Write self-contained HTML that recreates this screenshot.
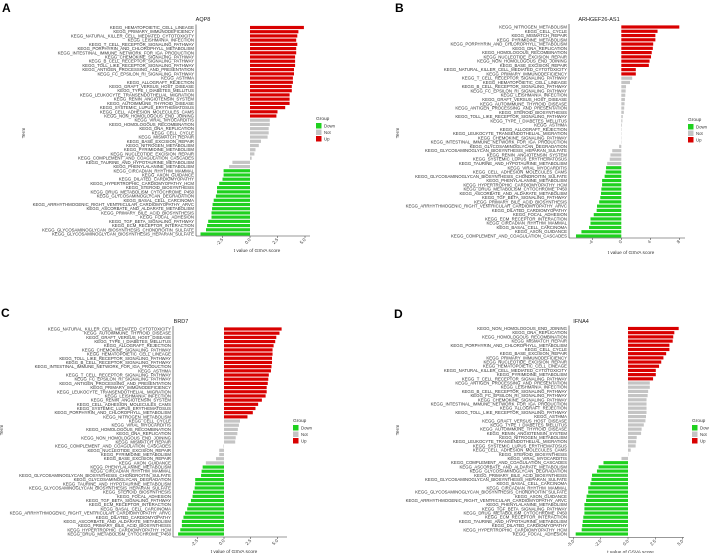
<!DOCTYPE html>
<html><head><meta charset="utf-8"><style>
html,body{margin:0;padding:0;background:#fff;}
svg{display:block;font-family:"Liberation Sans",sans-serif;}
</style></head><body>
<svg id="fig" width="709" height="553" viewBox="0 0 709 553"></svg>
<script>
// Panel A (gene title, terms, values, group counts [Up, Not, Down])
const titleA = "AQP8";
const termsA = ["HEMATOPOIETIC_CELL_LINEAGE","PRIMARY_IMMUNODEFICIENCY","NATURAL_KILLER_CELL_MEDIATED_CYTOTOXICITY","LEISHMANIA_INFECTION","T_CELL_RECEPTOR_SIGNALING_PATHWAY","PORPHYRIN_AND_CHLOROPHYLL_METABOLISM","INTESTINAL_IMMUNE_NETWORK_FOR_IGA_PRODUCTION","CHEMOKINE_SIGNALING_PATHWAY","B_CELL_RECEPTOR_SIGNALING_PATHWAY","TOLL_LIKE_RECEPTOR_SIGNALING_PATHWAY","ANTIGEN_PROCESSING_AND_PRESENTATION","FC_EPSILON_RI_SIGNALING_PATHWAY","ASTHMA","ALLOGRAFT_REJECTION","GRAFT_VERSUS_HOST_DISEASE","TYPE_I_DIABETES_MELLITUS","LEUKOCYTE_TRANSENDOTHELIAL_MIGRATION","RENIN_ANGIOTENSIN_SYSTEM","AUTOIMMUNE_THYROID_DISEASE","SYSTEMIC_LUPUS_ERYTHEMATOSUS","CELL_ADHESION_MOLECULES_CAMS","NON_HOMOLOGOUS_END_JOINING","VIRAL_MYOCARDITIS","HOMOLOGOUS_RECOMBINATION","DNA_REPLICATION","CELL_CYCLE","MISMATCH_REPAIR","BASE_EXCISION_REPAIR","NITROGEN_METABOLISM","PYRIMIDINE_METABOLISM","NUCLEOTIDE_EXCISION_REPAIR","COMPLEMENT_AND_COAGULATION_CASCADES","TAURINE_AND_HYPOTAURINE_METABOLISM","PHENYLALANINE_METABOLISM","CIRCADIAN_RHYTHM_MAMMAL","AXON_GUIDANCE","DILATED_CARDIOMYOPATHY","HYPERTROPHIC_CARDIOMYOPATHY_HCM","STEROID_BIOSYNTHESIS","DRUG_METABOLISM_CYTOCHROME_P450","GLYCOSAMINOGLYCAN_DEGRADATION","BASAL_CELL_CARCINOMA","ARRHYTHMOGENIC_RIGHT_VENTRICULAR_CARDIOMYOPATHY_ARVC","ASCORBATE_AND_ALDARATE_METABOLISM","PRIMARY_BILE_ACID_BIOSYNTHESIS","FOCAL_ADHESION","TGF_BETA_SIGNALING_PATHWAY","ECM_RECEPTOR_INTERACTION","GLYCOSAMINOGLYCAN_BIOSYNTHESIS_CHONDROITIN_SULFATE","GLYCOSAMINOGLYCAN_BIOSYNTHESIS_HEPARAN_SULFATE"];
const valuesA = [4.9,4.4,4.3,4.2,4.3,4.2,4.2,4.1,4.1,4.1,4.0,4.0,3.9,3.9,3.8,3.8,3.6,3.6,3.6,3.2,2.5,2.4,1.8,1.8,1.7,1.7,1.6,1.0,0.8,0.5,0.4,0.15,-1.6,-1.9,-2.4,-2.4,-2.5,-2.8,-3.0,-3.0,-3.1,-3.3,-3.4,-3.45,-3.5,-3.5,-3.8,-3.9,-4.0,-4.5];
const groupsA = [22,12,16];
const ticksA = [-2.5,0,2.5,5];

const titleB = "ARHGEF26-AS1";
const termsB = ["NITROGEN_METABOLISM","CELL_CYCLE","MISMATCH_REPAIR","PYRIMIDINE_METABOLISM","PORPHYRIN_AND_CHLOROPHYLL_METABOLISM","DNA_REPLICATION","HOMOLOGOUS_RECOMBINATION","NUCLEOTIDE_EXCISION_REPAIR","NON_HOMOLOGOUS_END_JOINING","BASE_EXCISION_REPAIR","NATURAL_KILLER_CELL_MEDIATED_CYTOTOXICITY","PRIMARY_IMMUNODEFICIENCY","T_CELL_RECEPTOR_SIGNALING_PATHWAY","HEMATOPOIETIC_CELL_LINEAGE","B_CELL_RECEPTOR_SIGNALING_PATHWAY","FC_EPSILON_RI_SIGNALING_PATHWAY","LEISHMANIA_INFECTION","GRAFT_VERSUS_HOST_DISEASE","AUTOIMMUNE_THYROID_DISEASE","ANTIGEN_PROCESSING_AND_PRESENTATION","STEROID_BIOSYNTHESIS","TOLL_LIKE_RECEPTOR_SIGNALING_PATHWAY","TYPE_I_DIABETES_MELLITUS","ASTHMA","ALLOGRAFT_REJECTION","LEUKOCYTE_TRANSENDOTHELIAL_MIGRATION","CHEMOKINE_SIGNALING_PATHWAY","INTESTINAL_IMMUNE_NETWORK_FOR_IGA_PRODUCTION","GLYCOSAMINOGLYCAN_DEGRADATION","GLYCOSAMINOGLYCAN_BIOSYNTHESIS_HEPARAN_SULFATE","RENIN_ANGIOTENSIN_SYSTEM","SYSTEMIC_LUPUS_ERYTHEMATOSUS","TAURINE_AND_HYPOTAURINE_METABOLISM","VIRAL_MYOCARDITIS","CELL_ADHESION_MOLECULES_CAMS","GLYCOSAMINOGLYCAN_BIOSYNTHESIS_CHONDROITIN_SULFATE","PHENYLALANINE_METABOLISM","HYPERTROPHIC_CARDIOMYOPATHY_HCM","DRUG_METABOLISM_CYTOCHROME_P450","ASCORBATE_AND_ALDARATE_METABOLISM","TGF_BETA_SIGNALING_PATHWAY","PRIMARY_BILE_ACID_BIOSYNTHESIS","ARRHYTHMOGENIC_RIGHT_VENTRICULAR_CARDIOMYOPATHY_ARVC","DILATED_CARDIOMYOPATHY","FOCAL_ADHESION","ECM_RECEPTOR_INTERACTION","CIRCADIAN_RHYTHM_MAMMAL","BASAL_CELL_CARCINOMA","AXON_GUIDANCE","COMPLEMENT_AND_COAGULATION_CASCADES"];
const valuesB = [8.0,5.0,4.7,4.7,4.4,4.35,4.2,4.1,3.9,3.8,2.0,2.0,1.5,1.2,0.65,0.6,0.55,0.5,0.45,0.4,0.35,0.2,0.15,0.1,0.05,0.03,0.02,0.01,-0.3,-1.25,-1.5,-1.6,-1.95,-2.1,-2.15,-2.3,-2.65,-2.65,-2.75,-2.8,-2.9,-3.05,-3.35,-3.4,-3.8,-4.25,-4.25,-4.45,-5.5,-6.25];
const groupsB = [12,21,17];
const ticksB = [-4,0,4,8];

const titleC = "BRD7";
const termsC = ["NATURAL_KILLER_CELL_MEDIATED_CYTOTOXICITY","AUTOIMMUNE_THYROID_DISEASE","GRAFT_VERSUS_HOST_DISEASE","TYPE_I_DIABETES_MELLITUS","ALLOGRAFT_REJECTION","CHEMOKINE_SIGNALING_PATHWAY","HEMATOPOIETIC_CELL_LINEAGE","TOLL_LIKE_RECEPTOR_SIGNALING_PATHWAY","B_CELL_RECEPTOR_SIGNALING_PATHWAY","INTESTINAL_IMMUNE_NETWORK_FOR_IGA_PRODUCTION","ASTHMA","T_CELL_RECEPTOR_SIGNALING_PATHWAY","FC_EPSILON_RI_SIGNALING_PATHWAY","ANTIGEN_PROCESSING_AND_PRESENTATION","PRIMARY_IMMUNODEFICIENCY","LEUKOCYTE_TRANSENDOTHELIAL_MIGRATION","LEISHMANIA_INFECTION","RENIN_ANGIOTENSIN_SYSTEM","CELL_ADHESION_MOLECULES_CAMS","SYSTEMIC_LUPUS_ERYTHEMATOSUS","PORPHYRIN_AND_CHLOROPHYLL_METABOLISM","NITROGEN_METABOLISM","CELL_CYCLE","VIRAL_MYOCARDITIS","HOMOLOGOUS_RECOMBINATION","DNA_REPLICATION","NON_HOMOLOGOUS_END_JOINING","MISMATCH_REPAIR","COMPLEMENT_AND_COAGULATION_CASCADES","NUCLEOTIDE_EXCISION_REPAIR","PYRIMIDINE_METABOLISM","BASE_EXCISION_REPAIR","AXON_GUIDANCE","PHENYLALANINE_METABOLISM","CIRCADIAN_RHYTHM_MAMMAL","GLYCOSAMINOGLYCAN_BIOSYNTHESIS_CHONDROITIN_SULFATE","GLYCOSAMINOGLYCAN_DEGRADATION","TAURINE_AND_HYPOTAURINE_METABOLISM","GLYCOSAMINOGLYCAN_BIOSYNTHESIS_HEPARAN_SULFATE","STEROID_BIOSYNTHESIS","FOCAL_ADHESION","TGF_BETA_SIGNALING_PATHWAY","ECM_RECEPTOR_INTERACTION","BASAL_CELL_CARCINOMA","ARRHYTHMOGENIC_RIGHT_VENTRICULAR_CARDIOMYOPATHY_ARVC","DILATED_CARDIOMYOPATHY","ASCORBATE_AND_ALDARATE_METABOLISM","PRIMARY_BILE_ACID_BIOSYNTHESIS","HYPERTROPHIC_CARDIOMYOPATHY_HCM","DRUG_METABOLISM_CYTOCHROME_P450"];
const valuesC = [5.4,5.2,4.9,4.8,4.65,4.55,4.55,4.5,4.5,4.45,4.4,4.2,4.15,4.1,4.0,4.0,3.9,3.55,3.2,2.95,2.7,2.2,1.5,1.4,1.3,1.25,1.1,1.05,-0.05,-0.45,-0.45,-0.75,-1.7,-2.0,-2.1,-2.15,-2.7,-2.7,-2.75,-2.9,-2.95,-3.1,-3.35,-3.45,-3.65,-3.8,-3.95,-3.95,-4.1,-4.3];
const groupsC = [22,11,17];
const ticksC = [-2.5,0,2.5,5];

const titleD = "IFNA4";
const termsD = ["NON_HOMOLOGOUS_END_JOINING","DNA_REPLICATION","HOMOLOGOUS_RECOMBINATION","MISMATCH_REPAIR","PORPHYRIN_AND_CHLOROPHYLL_METABOLISM","CELL_CYCLE","BASE_EXCISION_REPAIR","PRIMARY_IMMUNODEFICIENCY","NUCLEOTIDE_EXCISION_REPAIR","HEMATOPOIETIC_CELL_LINEAGE","NATURAL_KILLER_CELL_MEDIATED_CYTOTOXICITY","PYRIMIDINE_METABOLISM","T_CELL_RECEPTOR_SIGNALING_PATHWAY","ANTIGEN_PROCESSING_AND_PRESENTATION","LEISHMANIA_INFECTION","B_CELL_RECEPTOR_SIGNALING_PATHWAY","FC_EPSILON_RI_SIGNALING_PATHWAY","CHEMOKINE_SIGNALING_PATHWAY","INTESTINAL_IMMUNE_NETWORK_FOR_IGA_PRODUCTION","ALLOGRAFT_REJECTION","TOLL_LIKE_RECEPTOR_SIGNALING_PATHWAY","ASTHMA","GRAFT_VERSUS_HOST_DISEASE","TYPE_I_DIABETES_MELLITUS","AUTOIMMUNE_THYROID_DISEASE","RENIN_ANGIOTENSIN_SYSTEM","NITROGEN_METABOLISM","LEUKOCYTE_TRANSENDOTHELIAL_MIGRATION","SYSTEMIC_LUPUS_ERYTHEMATOSUS","CELL_ADHESION_MOLECULES_CAMS","STEROID_BIOSYNTHESIS","VIRAL_MYOCARDITIS","COMPLEMENT_AND_COAGULATION_CASCADES","ASCORBATE_AND_ALDARATE_METABOLISM","GLYCOSAMINOGLYCAN_DEGRADATION","PRIMARY_BILE_ACID_BIOSYNTHESIS","GLYCOSAMINOGLYCAN_BIOSYNTHESIS_HEPARAN_SULFATE","BASAL_CELL_CARCINOMA","CIRCADIAN_RHYTHM_MAMMAL","GLYCOSAMINOGLYCAN_BIOSYNTHESIS_CHONDROITIN_SULFATE","AXON_GUIDANCE","ARRHYTHMOGENIC_RIGHT_VENTRICULAR_CARDIOMYOPATHY_ARVC","PHENYLALANINE_METABOLISM","TGF_BETA_SIGNALING_PATHWAY","DRUG_METABOLISM_CYTOCHROME_P450","ECM_RECEPTOR_INTERACTION","TAURINE_AND_HYPOTAURINE_METABOLISM","DILATED_CARDIOMYOPATHY","HYPERTROPHIC_CARDIOMYOPATHY_HCM","FOCAL_ADHESION"];
const valuesD = [4.65,4.25,4.15,4.1,3.8,3.8,3.5,3.25,3.05,2.85,2.55,2.55,2.3,2.0,2.0,1.85,1.8,1.7,1.7,1.7,1.7,1.65,1.6,1.45,1.25,1.2,0.8,0.75,0.7,0.25,0.02,-0.6,-2.25,-2.7,-2.85,-3.3,-3.35,-3.45,-3.65,-3.65,-3.8,-3.85,-4.0,-4.0,-4.0,-4.1,-4.15,-4.2,-4.25,-4.8];
const groupsD = [13,19,18];
const ticksD = [-5,-2.5,0,2.5,5];

const legendLabels = ["Down","Not","Up"];
const groupColors = {Up:"#d90000", Not:"#c4c4c4", Down:"#1fd11f"};

const NS = "http://www.w3.org/2000/svg";
const fig = document.getElementById('fig');
function mk(tag, attrs, parent, txt){
  const e = document.createElementNS(NS, tag);
  for (const k in attrs) e.setAttribute(k, attrs[k]);
  if (txt !== undefined) e.textContent = txt;
  (parent || fig).appendChild(e);
  return e;
}

function drawPanel(cfg){
  const g = mk('g', {});
  
  
  const xs = v => cfg.zero + v * cfg.ppu;
  const n = cfg.terms.length;
  const step = (cfg.botY - cfg.topY) / (n - 1);
  const ys = i => cfg.topY + i * step;

  const L = mk('text', {x: cfg.lx, y: cfg.ly, 'font-size': 12, 'font-weight': 'bold', fill: '#000'}, g, cfg.letter);
  
  
  const T = mk('text', {x: cfg.tx, y: cfg.ty, 'font-size': 5.5, 'text-anchor': 'middle', fill: '#222'}, g, cfg.title);
  
  

  for (let i = 0; i < n; i++) {
    const v = cfg.values[i];
    const grp = i < cfg.groups[0] ? 'Up' : (i < cfg.groups[0] + cfg.groups[1] ? 'Not' : 'Down');
    const x0 = Math.min(xs(0), xs(v)), w = Math.abs(xs(v) - xs(0));
    const r = mk('rect', {x: x0, y: ys(i) - 1.6, width: Math.max(w, 0.3), height: 3.2, fill: groupColors[grp]}, g);
    
    
    const t = mk('text', {x: cfg.axisX - 2, y: ys(i) + 1.5, 'font-size': 4.3, 'text-anchor': 'end', fill: '#333'}, g, 'KEGG_' + cfg.terms[i]);
    
    
  }
  // axes
  const ya = mk('line', {x1: cfg.axisX, y1: cfg.topY - 3, x2: cfg.axisX, y2: cfg.axisY, stroke: '#333', 'stroke-width': 0.6}, g);
  
  
  const xa = mk('line', {x1: cfg.axisX, y1: cfg.axisY, x2: cfg.axisEnd, y2: cfg.axisY, stroke: '#333', 'stroke-width': 0.6}, g);
  
  
  cfg.ticks.forEach(tv => {
    const x = xs(tv);
    mk('line', {x1: x, y1: cfg.axisY, x2: x, y2: cfg.axisY + 2, stroke: '#333', 'stroke-width': 0.5}, g);
    const lab = mk('text', {x: x + 1, y: cfg.axisY + 4, 'font-size': 4.5, 'text-anchor': 'end', fill: '#333',
      transform: `rotate(-45 ${x + 1} ${cfg.axisY + 4})`}, g, tv.toFixed(cfg.dec));
    
    
  });
  const xt = mk('text', {x: (cfg.axisX + cfg.axisEnd) / 2 + 4, y: cfg.axisY + 16, 'font-size': 4.8, 'text-anchor': 'middle', fill: '#333'}, g, 't value of GSVA score');
  
  
  const yt = mk('text', {x: cfg.termX, y: cfg.termY, 'font-size': 4.8, 'text-anchor': 'middle', fill: '#333',
    transform: `rotate(-90 ${cfg.termX} ${cfg.termY})`}, g, 'Term');
  
  
  // legend
  const lg = mk('g', {}, g);
  
  
  mk('text', {x: cfg.legX, y: cfg.legY, 'font-size': 4.8, fill: '#333'}, lg, 'Group');
  legendLabels.forEach((lbl, k) => {
    const e = mk('rect', {x: cfg.legX, y: cfg.legY + 3 + k * 6.5, width: 5.5, height: 5.5, fill: groupColors[lbl]}, lg);
    
    
    const et = mk('text', {x: cfg.legX + 8, y: cfg.legY + 7.5 + k * 6.5, 'font-size': 4.3, fill: '#333'}, lg, lbl);
    
    
  });
}

drawPanel({letter:'A', lx:2, ly:12, title:titleA, tx:203, ty:21, terms:termsA, values:valuesA, groups:groupsA, ticks:ticksA, dec:1,
  axisX:196, zero:250, ppu:11, topY:27.5, botY:234, axisY:236, axisEnd:310, termX:25, termY:133, legX:316, legY:120});
drawPanel({letter:'B', lx:395, ly:12, title:titleB, tx:599, ty:21, terms:termsB, values:valuesB, groups:groupsB, ticks:ticksB, dec:0,
  axisX:569, zero:621.3, ppu:7.25, topY:27, botY:236, axisY:238, axisEnd:685, termX:399, termY:133, legX:688, legY:121});
drawPanel({letter:'C', lx:1, ly:317, title:titleC, tx:181, ty:323, terms:termsC, values:valuesC, groups:groupsC, ticks:ticksC, dec:1,
  axisX:173, zero:224, ppu:10.67, topY:329, botY:534, axisY:537, axisEnd:287, termX:3, termY:430, legX:293, legY:422});
drawPanel({letter:'D', lx:394, ly:318, title:titleD, tx:581, ty:323, terms:termsD, values:valuesD, groups:groupsD, ticks:ticksD, dec:1,
  axisX:569, zero:628, ppu:10.9, topY:328.5, botY:534, axisY:537.5, axisEnd:684, termX:399, termY:430, legX:692, legY:422});
</script>
</body></html>
